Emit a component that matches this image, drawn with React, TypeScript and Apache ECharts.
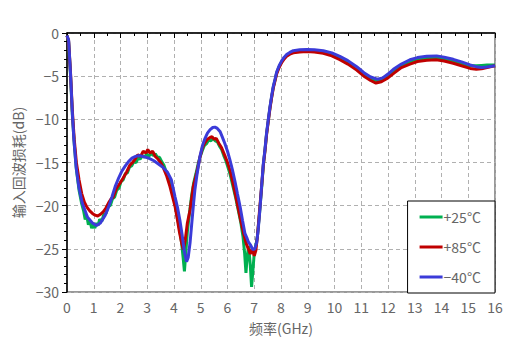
import React, { useEffect, useRef } from "react";
import * as echarts from "echarts";

const seriesNames = ["+25°C", "+85°C", "−40°C"];
const seriesColors = ["#00B050", "#C00000", "#3B3BD9"];

const green25: [number, number][] = [
  [0, -0.3], [0.06, -1.0], [0.13, -4.8], [0.2, -9.5], [0.27, -12.8], [0.35, -15.8], [0.45, -18.2], [0.55, -19.8],
  [0.62, -20.6], [0.68, -21.6], [0.74, -21.2], [0.8, -22.2], [0.86, -21.7], [0.92, -22.6], [0.98, -22.1], [1.04, -22.6],
  [1.1, -22.0], [1.16, -22.3], [1.22, -21.6], [1.3, -21.8], [1.38, -21.0], [1.46, -20.9], [1.54, -20.0], [1.62, -20.0],
  [1.7, -19.2], [1.78, -19.0], [1.86, -18.2], [1.94, -18.0], [2.02, -17.2], [2.1, -17.0], [2.18, -16.3], [2.26, -16.2],
  [2.34, -15.5], [2.42, -15.4], [2.5, -14.9], [2.58, -15.0], [2.66, -14.5], [2.74, -14.6], [2.82, -14.2], [2.9, -14.4],
  [2.98, -14.0], [3.06, -14.3], [3.14, -13.9], [3.22, -14.2], [3.3, -14.0], [3.38, -14.4], [3.46, -14.4], [3.54, -14.9],
  [3.62, -15.3], [3.7, -16.0], [3.78, -16.6], [3.86, -17.5], [3.95, -18.6], [4.04, -19.8], [4.12, -21.2], [4.2, -22.6],
  [4.28, -24.2], [4.34, -26.0], [4.39, -27.6], [4.44, -25.5], [4.5, -23.0], [4.58, -20.8], [4.66, -18.8], [4.74, -17.3],
  [4.82, -16.3], [4.9, -15.2], [4.98, -14.3], [5.06, -13.6], [5.14, -13.0], [5.22, -12.8], [5.3, -12.4], [5.38, -12.5],
  [5.46, -12.2], [5.54, -12.5], [5.62, -12.6], [5.7, -13.1], [5.78, -13.5], [5.86, -14.2], [5.94, -14.8], [6.02, -15.6],
  [6.1, -16.4], [6.2, -17.7], [6.3, -19.0], [6.4, -20.5], [6.5, -22.0], [6.58, -23.6], [6.64, -25.5], [6.69, -27.8],
  [6.74, -25.8], [6.79, -24.7], [6.85, -26.8], [6.9, -29.4], [6.95, -27.5], [7.0, -25.5], [7.06, -24.6], [7.12, -23.5],
  [7.2, -20.8], [7.28, -17.8], [7.34, -15.3], [7.4, -13.6], [7.46, -11.7], [7.53, -10.0], [7.59, -8.6], [7.65, -7.4],
  [7.71, -6.3], [7.78, -5.4], [7.84, -4.6], [7.93, -3.9], [8.03, -3.3], [8.12, -2.9], [8.21, -2.6], [8.33, -2.35],
  [8.46, -2.15], [8.7, -2.05], [8.96, -2.0], [9.25, -2.05], [9.58, -2.2], [9.9, -2.45], [10.2, -2.85], [10.5, -3.35],
  [10.83, -4.05], [11.1, -4.75], [11.35, -5.25], [11.6, -5.55], [11.8, -5.4], [12.0, -4.95], [12.2, -4.4], [12.5, -3.8],
  [12.82, -3.3], [13.1, -3.0], [13.45, -2.9], [13.82, -2.85], [14.1, -3.0], [14.44, -3.25], [14.75, -3.5], [15.07, -3.8],
  [15.3, -3.8], [15.5, -3.75], [15.7, -3.7], [16, -3.7],
];

const red85: [number, number][] = [
  [0, -0.3], [0.06, -0.9], [0.13, -4.5], [0.2, -9.0], [0.27, -12.3], [0.35, -15.0], [0.45, -17.0], [0.55, -18.6],
  [0.65, -19.6], [0.75, -20.2], [0.85, -20.6], [0.95, -20.9], [1.05, -21.1], [1.15, -21.2], [1.25, -21.0], [1.36, -20.7],
  [1.45, -20.3], [1.55, -19.7], [1.65, -19.2], [1.73, -19.0], [1.85, -18.0], [1.98, -17.4], [2.1, -16.8], [2.23, -16.1],
  [2.35, -15.3], [2.45, -15.0], [2.55, -14.6], [2.65, -14.1], [2.75, -14.3], [2.85, -13.7], [2.95, -13.9], [3.02, -13.5],
  [3.1, -13.9], [3.2, -13.7], [3.3, -14.3], [3.4, -14.6], [3.5, -15.0], [3.6, -15.6], [3.73, -16.6], [3.85, -17.8],
  [3.95, -19.0], [4.04, -20.1], [4.12, -21.5], [4.2, -23.0], [4.29, -24.4], [4.35, -25.1], [4.42, -24.0], [4.5, -22.0],
  [4.6, -20.5], [4.72, -17.8], [4.85, -16.2], [4.97, -14.4], [5.06, -13.3], [5.16, -12.7], [5.25, -12.3], [5.35, -12.1],
  [5.42, -12.0], [5.5, -12.3], [5.58, -12.2], [5.68, -12.8], [5.78, -13.3], [5.9, -14.2], [6.0, -15.0], [6.1, -16.0],
  [6.2, -17.3], [6.3, -18.8], [6.4, -20.3], [6.5, -21.8], [6.6, -23.2], [6.7, -24.4], [6.78, -25.0], [6.85, -25.6],
  [6.92, -25.0], [7.0, -25.8], [7.06, -25.2], [7.12, -23.5], [7.2, -20.5], [7.28, -17.6], [7.34, -15.3], [7.4, -13.7],
  [7.46, -11.8], [7.53, -10.1], [7.59, -8.7], [7.65, -7.5], [7.71, -6.4], [7.78, -5.5], [7.84, -4.7], [7.93, -4.0],
  [8.03, -3.4], [8.12, -3.0], [8.21, -2.7], [8.33, -2.45], [8.46, -2.3], [8.7, -2.2], [8.96, -2.15], [9.25, -2.2],
  [9.58, -2.35], [9.9, -2.65], [10.2, -3.1], [10.5, -3.6], [10.83, -4.3], [11.1, -5.0], [11.35, -5.5], [11.55, -5.8],
  [11.75, -5.65], [12.0, -5.2], [12.2, -4.7], [12.5, -4.0], [12.82, -3.6], [13.1, -3.3], [13.45, -3.15], [13.8, -3.1],
  [14.1, -3.25], [14.44, -3.5], [14.75, -3.8], [15.07, -4.1], [15.3, -4.2], [15.5, -4.15], [15.7, -4.0], [16, -3.8],
];

const blue40: [number, number][] = [
  [0, -0.3], [0.06, -0.8], [0.13, -4.6], [0.2, -9.3], [0.26, -12.4], [0.34, -15.5], [0.44, -17.8], [0.57, -19.7],
  [0.76, -21.3], [0.95, -22.0], [1.1, -22.3], [1.25, -22.0], [1.43, -21.1], [1.55, -20.2], [1.68, -19.0], [1.8, -17.8],
  [1.93, -16.8], [2.05, -16.0], [2.18, -15.4], [2.3, -14.9], [2.43, -14.5], [2.55, -14.3], [2.68, -14.2], [2.85, -14.3],
  [3.05, -14.5], [3.25, -14.8], [3.43, -15.2], [3.6, -15.6], [3.75, -16.1], [3.9, -17.0], [4.04, -19.0], [4.13, -20.2],
  [4.22, -21.7], [4.3, -23.3], [4.38, -25.2], [4.47, -26.5], [4.53, -26.0], [4.6, -24.3], [4.66, -22.2], [4.72, -20.1],
  [4.78, -18.2], [4.85, -16.6], [4.97, -14.3], [5.06, -13.1], [5.16, -12.2], [5.25, -11.6], [5.35, -11.2], [5.45, -10.95],
  [5.53, -10.9], [5.62, -11.05], [5.72, -11.4], [5.8, -12.0], [5.9, -12.8], [6.0, -13.7], [6.09, -14.7], [6.18, -15.8],
  [6.28, -17.2], [6.37, -18.6], [6.47, -20.1], [6.56, -21.7], [6.65, -23.2], [6.72, -23.7], [6.78, -24.2], [6.85, -24.5],
  [6.95, -25.1], [7.02, -25.0], [7.09, -24.3], [7.15, -22.7], [7.21, -20.5], [7.28, -17.5], [7.34, -15.1], [7.4, -13.5],
  [7.46, -11.6], [7.53, -9.9], [7.59, -8.5], [7.65, -7.3], [7.71, -6.2], [7.78, -5.3], [7.84, -4.5], [7.93, -3.8],
  [8.03, -3.2], [8.12, -2.8], [8.21, -2.5], [8.33, -2.25], [8.46, -2.05], [8.7, -1.95], [8.96, -1.9], [9.25, -1.95],
  [9.58, -2.05], [9.9, -2.3], [10.2, -2.7], [10.5, -3.2], [10.83, -3.9], [11.1, -4.6], [11.35, -5.1], [11.6, -5.35],
  [11.8, -5.2], [12.0, -4.75], [12.2, -4.2], [12.5, -3.6], [12.82, -3.1], [13.1, -2.85], [13.45, -2.7], [13.82, -2.65],
  [14.1, -2.8], [14.44, -3.05], [14.75, -3.35], [15.07, -3.7], [15.3, -3.9], [15.5, -4.0], [15.7, -3.95], [16, -3.8],
];

const seriesData = [green25, red85, blue40];

const xName = "频率(GHz)";
const yName = "输入回波损耗(dB)";

export default function App() {
  const ref = useRef<HTMLDivElement>(null);
  useEffect(() => {
    document.body.style.margin = "0";
    if (!ref.current) return;
    const chart = echarts.init(ref.current, null, { renderer: "svg" });
    const font = "'Noto Sans CJK SC', 'Noto Sans', sans-serif";
    const labelColor = "#666";
    chart.setOption({
      animation: false,
      backgroundColor: "#fff",
      textStyle: { fontFamily: font },
      grid: {
        left: 67, right: 10, top: 33, bottom: 49,
        containLabel: false, outerBoundsMode: "none",
        show: true, borderColor: "#333", borderWidth: 1,
      },
      legend: {
        data: seriesNames,
        orient: "vertical",
        right: 10,
        bottom: 48,
        icon: "rect",
        backgroundColor: "#fff",
        borderColor: "#000",
        borderWidth: 1,
        borderRadius: 0,
        padding: [9, 14, 9, 12],
        itemGap: 16,
        itemWidth: 23,
        itemHeight: 3,
        textStyle: { fontSize: 14, lineHeight: 14, height: 14, color: labelColor, fontFamily: font, padding: [0, 0, 0, -4] },
      },
      xAxis: {
        type: "value",
        min: 0, max: 16, interval: 1,
        name: xName,
        nameLocation: "middle",
        nameGap: 29,
        nameTextStyle: { fontSize: 14, color: labelColor, fontFamily: font },
        axisLine: { show: true, lineStyle: { color: "#000", width: 1.5 } },
        axisTick: { show: true, length: 5, lineStyle: { color: "#000" } },
        minorTick: { show: true, splitNumber: 2, length: 3, lineStyle: { color: "#000" } },
        axisLabel: { fontSize: 14, color: labelColor, margin: 8, fontFamily: font },
        splitLine: { show: true, lineStyle: { color: "#b0b0b0", type: [4, 3], width: 1 } },
      },
      yAxis: {
        type: "value",
        min: -30, max: 0, interval: 5,
        name: yName,
        nameLocation: "middle",
        nameGap: 42,
        nameTextStyle: { fontSize: 14, color: labelColor, fontFamily: font },
        axisLine: { show: true, lineStyle: { color: "#000", width: 1.5 } },
        axisTick: { show: true, length: 5, lineStyle: { color: "#000" } },
        minorTick: { show: true, splitNumber: 5, length: 3, lineStyle: { color: "#000" } },
        axisLabel: {
          fontSize: 14, color: labelColor, margin: 8, fontFamily: font,
          formatter: (v: number) => String(v).replace("-", "−"),
        },
        splitLine: { show: true, lineStyle: { color: "#b0b0b0", type: [4, 3], width: 1 } },
      },
      series: seriesNames.map((name, i) => ({
        name,
        type: "line",
        data: seriesData[i],
        symbol: "none",
        smooth: false,
        color: seriesColors[i],
        lineStyle: { color: seriesColors[i], width: 3 },
        z: 2 + i,
      })),
    });
    return () => chart.dispose();
  }, []);
  return <div ref={ref} style={{ width: 505, height: 341 }} />;
}
